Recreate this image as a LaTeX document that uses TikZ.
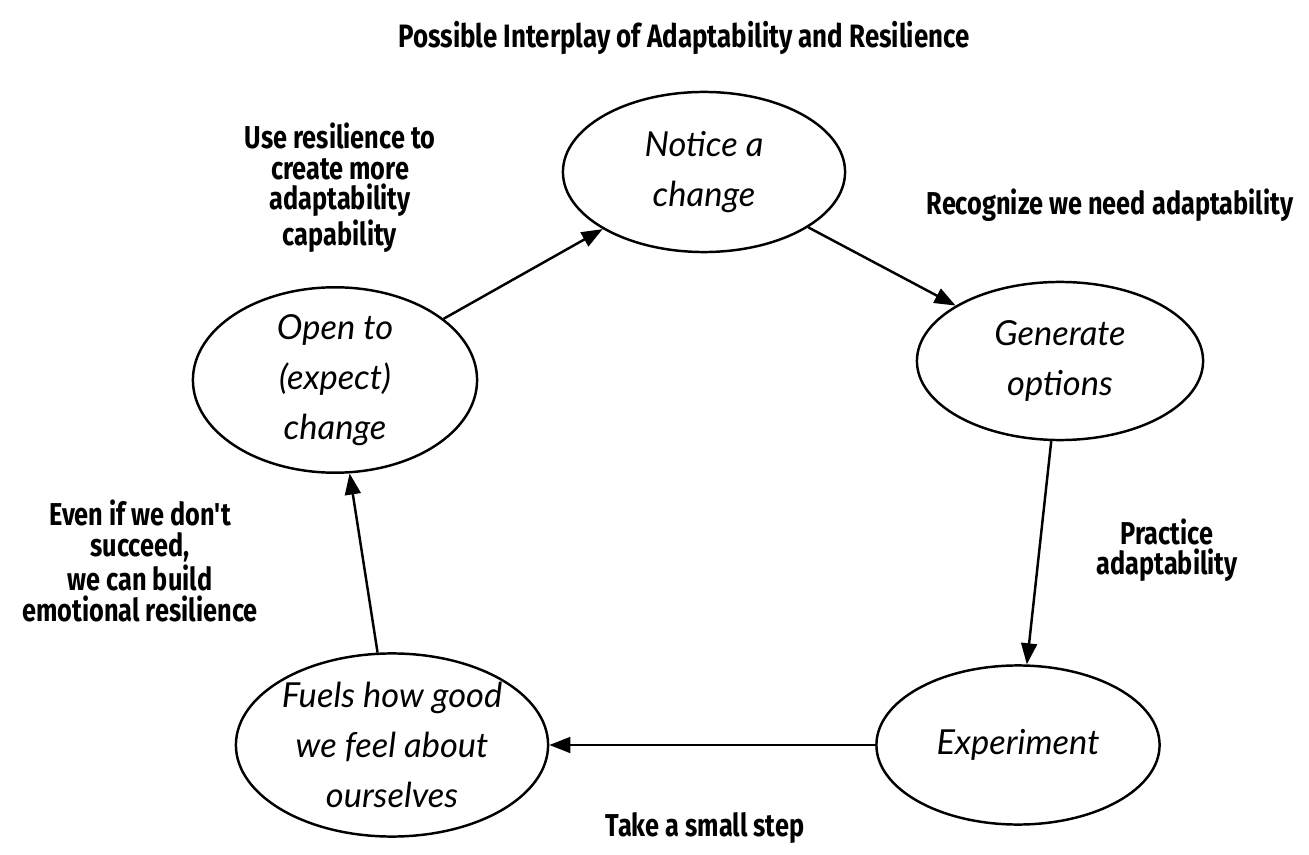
\documentclass[tikz,border=0pt]{standalone}
\usepackage{fontspec}
\setmainfont{Lato}
\newfontfamily\notefont[FakeStretch=0.8]{Fira Sans}
\usetikzlibrary{arrows.meta,shapes.geometric}
\tikzset{
  stage/.style={draw, ellipse, line width=0.7pt, inner sep=0pt, align=center,
    font=\fontsize{9.8}{14.2}\selectfont\itshape},
  note/.style={align=center, font=\notefont\bfseries\fontsize{9}{8.6}\selectfont},
  flow/.style={line width=0.7pt, -{Triangle[length=6pt,width=4.5pt]}}
}

\begin{document}
\begin{tikzpicture}[x=0.01cm, y=-0.01cm]
  \useasboundingbox (0,0) rectangle (1309,855);
  \node[note, font=\notefont\bfseries\fontsize{9.2}{10}\selectfont] (title) at (684,38) {Possible Interplay of Adaptability and Resilience};

  \node[stage, minimum width=2.82cm, minimum height=1.60cm] (notice) at (704,172) {Notice a\\change};
  \node[stage, minimum width=2.86cm, minimum height=1.58cm] (generate) at (1060,361) {Generate\\options};
  \node[stage, minimum width=2.83cm, minimum height=1.59cm] (experiment) at (1018,745) {Experiment};
  \node[stage, minimum width=3.12cm, minimum height=1.83cm] (fuels) at (392,745) {Fuels how good\\we feel about\\ourselves};
  \node[stage, minimum width=2.84cm, minimum height=1.60cm] (open) at (335,380) {Open to\\(expect)\\change};

  \node[note] (useres) at (340,188) {Use resilience to\\create more\\adaptability\\capability};
  \node[note] (recognize) at (1110,205) {Recognize we need adaptability};
  \node[note] (practice) at (1167,550) {Practice\\adaptability};
  \node[note] (evenif) at (140,561) {Even if we don't\\succeed,\\we can build\\emotional resilience};
  \node[note] (smallstep) at (705,828) {Take a small step};

  \draw[flow] (open) -- (notice);
  \draw[flow] (notice) -- (generate);
  \draw[flow] (generate) -- (experiment);
  \draw[flow] (experiment) -- (fuels);
  \draw[flow] (fuels) -- (open);
\end{tikzpicture}
\end{document}
